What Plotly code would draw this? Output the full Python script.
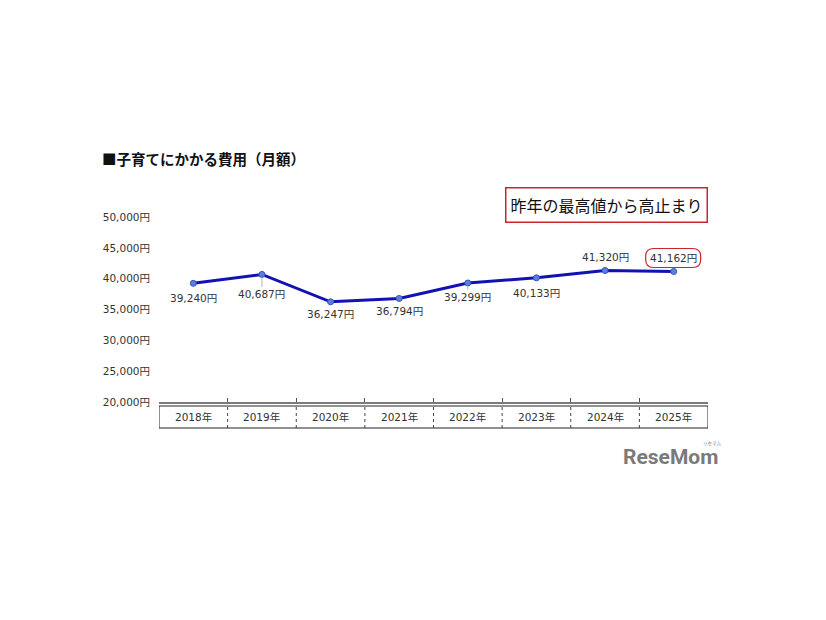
import plotly.graph_objects as go

# ---- data ----
years = ["2018年", "2019年", "2020年", "2021年", "2022年", "2023年", "2024年", "2025年"]
costs = [39240, 40687, 36247, 36794, 39299, 40133, 41320, 41162]
value_labels = ["39,240円", "40,687円", "36,247円", "36,794円", "39,299円", "40,133円", "41,320円", "41,162円"]
y_ticks = [20000, 25000, 30000, 35000, 40000, 45000, 50000]
y_tick_labels = ["20,000円", "25,000円", "30,000円", "35,000円", "40,000円", "45,000円", "50,000円"]
title_text = "■子育てにかかる費用（月額）"
callout_text = "昨年の最高値から高止まり"

# ---- styles ----
FONT = "DejaVu Sans, Noto Sans CJK JP, sans-serif"
CJK = "Noto Sans CJK JP, sans-serif"
label_offsets = [15, 20, 12, 13, 14, 15, -14, -14]   # pixel shift of value labels (down positive)
leader = [False, True, False, False, True, False, False, False]

OFF = 8  # page body margin
W, H = 826 - 2 * OFF, 620 - 2 * OFF
L = 159 - OFF
T = 217 - OFF
B = H - (402 - OFF)
R = W - (708 - OFF)
ph = H - T - B
pw = W - L - R

def py(px):  # screen pixel y -> paper y
    return (H - B - (px - OFF)) / ph

def pxx(px):
    return (px - OFF - L) / pw

xs = list(range(len(years)))

fig = go.Figure()
fig.add_trace(go.Scatter(
    x=xs, y=costs, mode="lines+markers",
    line=dict(color="#1212B4", width=3),
    marker=dict(size=6, color="#5E7FD8", line=dict(color="#3352C4", width=1)),
    hoverinfo="skip", showlegend=False,
))

ann = []
for i, (v, lab) in enumerate(zip(costs, value_labels)):
    off = label_offsets[i]
    if leader[i]:
        ann.append(dict(x=i, y=v, xref="x", yref="y", text=lab, showarrow=True,
                        arrowhead=0, arrowwidth=1, arrowcolor="#B0B0B0",
                        ax=0, ay=off, standoff=3,
                        font=dict(family=FONT, size=10.5, color="#333333"),
                        xanchor="center", yanchor="middle"))
    else:
        ann.append(dict(x=i, y=v, xref="x", yref="y", text=lab, showarrow=False,
                        yshift=-off, xanchor="center", yanchor="middle",
                        font=dict(family=FONT, size=10.5, color="#333333")))

# year labels in table
for i, yr in enumerate(years):
    ann.append(dict(x=i, y=py(417), xref="x", yref="paper", text=yr, showarrow=False,
                    xanchor="center", yanchor="middle",
                    font=dict(family=FONT, size=10.5, color="#333333")))

# title
ann.append(dict(x=pxx(100), y=py(158), xref="paper", yref="paper", text="<b>" + title_text + "</b>",
                showarrow=False, xanchor="left", yanchor="middle",
                font=dict(family=CJK, size=14.5, color="#111111")))

# callout box
ann.append(dict(x=pxx(606), y=py(205), xref="paper", yref="paper", text=callout_text,
                showarrow=False, xanchor="center", yanchor="middle",
                width=196, height=29, bordercolor="#C8262C", borderwidth=1.5, borderpad=2,
                font=dict(family=CJK, size=16, color="#111111")))

# watermark
ann.append(dict(x=pxx(670), y=py(457), xref="paper", yref="paper", text="<b>ReseMom</b>",
                showarrow=False, xanchor="center", yanchor="middle",
                font=dict(family="Roboto, Liberation Sans, sans-serif", size=21, color="#7A7A7A")))
ann.append(dict(x=pxx(712), y=py(443), xref="paper", yref="paper", text="リセマム",
                showarrow=False, xanchor="center", yanchor="middle",
                font=dict(family=CJK, size=4.5, color="#7A7A7A")))

shapes = []
# table frame
shapes.append(dict(type="rect", xref="x", yref="paper", x0=-0.5, x1=len(years) - 0.5,
                   y0=py(428), y1=py(406), line=dict(color="#222222", width=1)))
for i in range(len(years) - 1):
    shapes.append(dict(type="line", xref="x", yref="paper", x0=i + 0.5, x1=i + 0.5,
                       y0=py(428), y1=py(406), line=dict(color="#444444", width=1, dash="dot")))

# rounded box around last label
last = len(years) - 1
r = 8
x0, x1, y0, y1 = -28, 27, 4, 23
path = (f"M {x0 + r},{y0} L {x1 - r},{y0} Q {x1},{y0} {x1},{y0 + r} L {x1},{y1 - r} "
        f"Q {x1},{y1} {x1 - r},{y1} L {x0 + r},{y1} Q {x0},{y1} {x0},{y1 - r} "
        f"L {x0},{y0 + r} Q {x0},{y0} {x0 + r},{y0} Z")
shapes.append(dict(type="path", xref="x", yref="y", xsizemode="pixel", ysizemode="pixel",
                   xanchor=last, yanchor=costs[last], path=path,
                   line=dict(color="#C8262C", width=1.2)))

fig.update_layout(
    width=W, height=H,
    margin=dict(l=L, r=R, t=T, b=B, autoexpand=False),
    plot_bgcolor="white", paper_bgcolor="white",
    annotations=ann, shapes=shapes,
    xaxis=dict(range=[-0.5, len(years) - 0.5], showgrid=False, zeroline=False,
               showline=True, linecolor="#7A7A7A", linewidth=1.5,
               ticks="inside", ticklen=4, tickcolor="#555555",
               tickvals=[i - 0.5 for i in range(len(years))], showticklabels=False),
    yaxis=dict(range=[20000, 50000], showgrid=False, zeroline=False, showline=False,
               tickvals=y_ticks, ticktext=y_tick_labels, ticks="",
               ticklabelstandoff=8,
               tickfont=dict(family=FONT, size=10.5, color="#333333")),
)

fig.write_html("out.html")
